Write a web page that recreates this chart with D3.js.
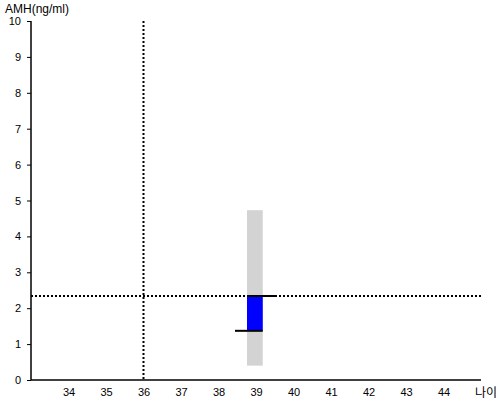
<!DOCTYPE html>
<html><head><meta charset="utf-8">
<script src="https://cdn.jsdelivr.net/npm/d3@7"></script>
<style>body{margin:0;background:#fff;}svg{display:block;font-family:"Liberation Sans",Arial,sans-serif;}</style>
</head><body>
<svg id="c" width="500" height="400"></svg>
<script>
const xTicks = [34,35,36,37,38,39,40,41,42,43,44];
const yTicks = [0,1,2,3,4,5,6,7,8,9,10];
const xDomain = [33,45];
const yDomain = [0,10];
const age = [38.97];
const rangeLow = [0.4];
const rangeHigh = [4.73];
const amhLow = [1.37];
const amhHigh = [2.34];
const refAge = [36];
const refAmh = [2.34];
const xLabel = "나이";
const yLabel = "AMH(ng/ml)";

const svg = d3.select("#c");
const x = d3.scaleLinear().domain(xDomain).range([31,481]);
const y = d3.scaleLinear().domain(yDomain).range([380,21]);
const half = 0.21;

svg.selectAll("rect.rng").data(age).enter().append("rect")
  .attr("x", (d)=>x(d-half)).attr("width", (d)=>x(d+half)-x(d-half))
  .attr("y", (d,i)=>y(rangeHigh[i])).attr("height",(d,i)=>y(rangeLow[i])-y(rangeHigh[i]))
  .attr("fill","#d3d3d3");

svg.selectAll("rect.amh").data(age).enter().append("rect")
  .attr("x", (d)=>x(d-half)).attr("width", (d)=>x(d+half)-x(d-half))
  .attr("y", (d,i)=>y(amhHigh[i])).attr("height",(d,i)=>y(amhLow[i])-y(amhHigh[i]))
  .attr("fill","#0000ff");

svg.append("line").attr("x1",x(refAge[0])).attr("x2",x(refAge[0]))
  .attr("y1",y(10)).attr("y2",y(0))
  .attr("stroke","#000").attr("stroke-width",2).attr("stroke-dasharray","2,2");
svg.append("line").attr("x1",x(xDomain[0])).attr("x2",x(xDomain[1]))
  .attr("y1",y(refAmh[0])).attr("y2",y(refAmh[0]))
  .attr("stroke","#000").attr("stroke-width",2).attr("stroke-dasharray","2,2");

age.forEach((a,i)=>{
  svg.append("line").attr("x1",x(a-half)).attr("x2",x(a+half+0.33))
    .attr("y1",y(amhHigh[i])).attr("y2",y(amhHigh[i]))
    .attr("stroke","#000").attr("stroke-width",2);
  svg.append("line").attr("x1",x(a-half-0.32)).attr("x2",x(a+half))
    .attr("y1",y(amhLow[i])).attr("y2",y(amhLow[i]))
    .attr("stroke","#000").attr("stroke-width",2);
});

const ya = svg.append("g").attr("transform","translate(31,0)")
  .call(d3.axisLeft(y).tickValues(yTicks).tickSize(4).tickPadding(6).tickFormat(d3.format("d")));
ya.select(".domain").attr("d",`M0,${y(10)}V${y(0)}`).attr("stroke-width",1.5);
ya.selectAll("text").attr("font-size",11).attr("fill","#000").attr("font-family","Liberation Sans, Arial, sans-serif");

const xa = svg.append("g").attr("transform",`translate(0,${y(0)})`)
  .call(d3.axisBottom(x).tickValues(xTicks).tickSize(0).tickPadding(8));
xa.select(".domain").attr("d",`M${x(xDomain[0])},0H${x(xDomain[1])}`).attr("stroke-width",1.5);
xa.selectAll("text").attr("font-size",11).attr("fill","#000").attr("font-family","Liberation Sans, Arial, sans-serif");

svg.append("text").attr("x",5).attr("y",12.5).attr("font-size",12).text(yLabel);
svg.append("text").attr("x",497).attr("y",397).attr("font-size",12).attr("text-anchor","end")
  .attr("font-family","Noto Sans CJK KR, sans-serif").text(xLabel);
</script>
</body></html>
